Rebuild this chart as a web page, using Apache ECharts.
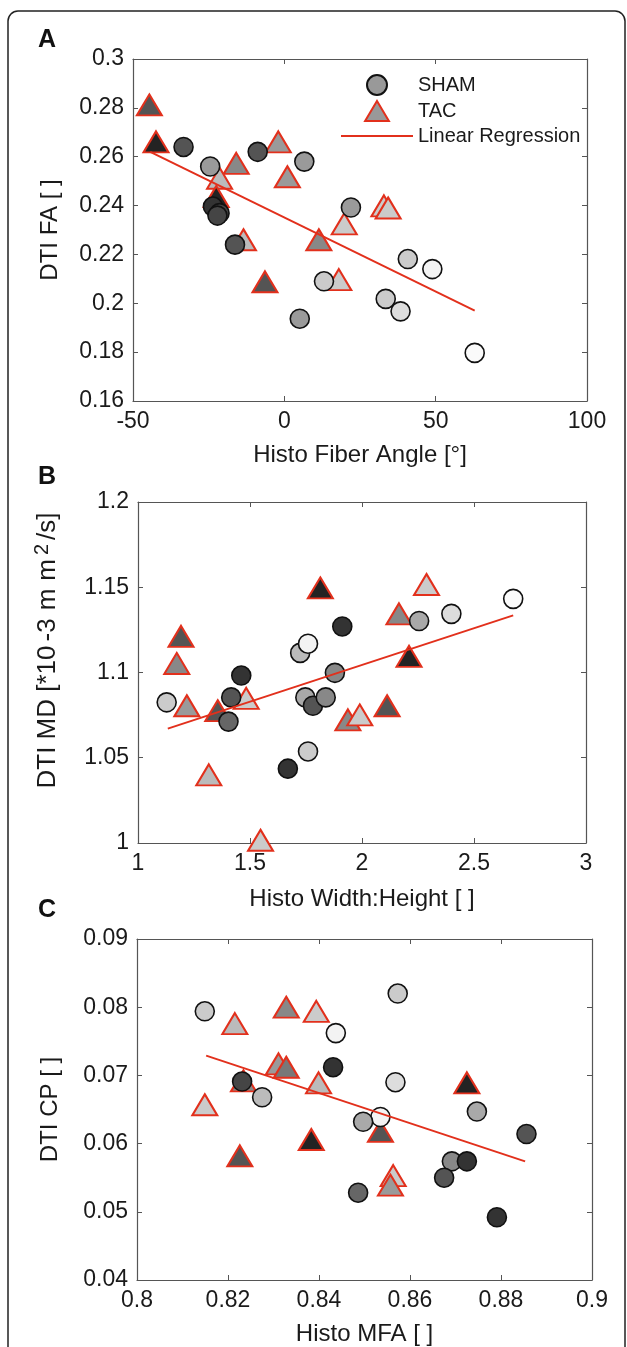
<!DOCTYPE html>
<html>
<head>
<meta charset="utf-8">
<script src="https://cdn.jsdelivr.net/npm/echarts@6/dist/echarts.min.js"></script>
<style>
  html, body { margin: 0; padding: 0; background: #fff; }
  #chart { width: 627px; height: 1347px; }
</style>
</head>
<body>
<div id="chart"></div>
<script>
// A: fiber angle vs FA  (shade: 0 = black fill, 1 = white fill)
const faShamX = [-33.3, -24.5, -8.8, 6.6, -23.6, -21.4, -22.1, -16.3, 22.0, 13.1, 5.1, 40.8, 48.9, 33.5, 38.4, 62.9]
const faShamY = [0.264, 0.256, 0.262, 0.258, 0.2396, 0.2369, 0.2359, 0.224, 0.2392, 0.209, 0.1937, 0.2181, 0.214, 0.2018, 0.1967, 0.1797]
const faShamShade = [0.26, 0.57, 0.26, 0.57, 0.11, 0.19, 0.19, 0.26, 0.57, 0.79, 0.57, 0.79, 0.97, 0.79, 0.87, 1]
const faTacX = [-44.6, -42.4, -2.0, -15.9, -21.4, 1.0, -22.5, 32.9, 34.3, 19.8, 11.4, -13.5, -6.4, 18.0]
const faTacY = [0.2812, 0.2661, 0.2661, 0.2573, 0.2512, 0.2518, 0.2437, 0.2399, 0.239, 0.2325, 0.226, 0.226, 0.2088, 0.2097]
const faTacShade = [0.26, 0.04, 0.57, 0.49, 0.72, 0.57, 0.04, 0.79, 0.79, 0.79, 0.49, 0.72, 0.26, 0.79]
const faFitX = [-44.3, 62.9]
const faFitY = [0.262, 0.197]

// B: width:height vs MD
const mdShamX = [1.128, 1.416, 1.461, 1.404, 1.724, 1.759, 1.912, 1.879, 1.747, 1.781, 1.838, 1.759, 1.669, 2.255, 2.399, 2.675]
const mdShamY = [1.0825, 1.0854, 1.0982, 1.0712, 1.1115, 1.1169, 1.127, 1.0998, 1.0854, 1.0805, 1.0854, 1.0537, 1.0436, 1.1302, 1.1344, 1.1432]
const mdShamShade = [0.79, 0.26, 0.11, 0.34, 0.72, 0.97, 0.11, 0.49, 0.64, 0.26, 0.49, 0.79, 0.11, 0.64, 0.87, 1]
const mdTacX = [1.192, 1.173, 1.218, 1.356, 1.483, 1.316, 1.547, 1.814, 2.288, 2.165, 2.21, 2.112, 1.937, 1.99]
const mdTacY = [1.1212, 1.1053, 1.0805, 1.0776, 1.0848, 1.04, 1.0016, 1.1496, 1.1516, 1.1344, 1.1095, 1.0805, 1.0722, 1.0751]
const mdTacShade = [0.26, 0.49, 0.57, 0.26, 0.79, 0.72, 0.79, 0.04, 0.79, 0.49, 0.04, 0.26, 0.49, 0.79]
const mdFitX = [1.133, 2.675]
const mdFitY = [1.0671, 1.1335]

// C: MFA vs CP
const cpShamX = [0.8149, 0.8573, 0.8437, 0.8431, 0.8568, 0.8231, 0.8275, 0.8535, 0.8497, 0.8747, 0.8856, 0.8692, 0.8725, 0.8675, 0.8486, 0.8791]
const cpShamY = [0.0794, 0.082, 0.0762, 0.0712, 0.069, 0.0691, 0.0668, 0.0639, 0.0632, 0.0647, 0.0614, 0.0574, 0.0574, 0.055, 0.0528, 0.0492]
const cpShamShade = [0.79, 0.79, 0.97, 0.11, 0.87, 0.19, 0.72, 0.97, 0.64, 0.64, 0.26, 0.49, 0.11, 0.26, 0.34, 0.11]
const cpTacX = [0.8328, 0.8394, 0.8215, 0.8311, 0.8328, 0.8234, 0.8399, 0.8149, 0.8725, 0.8535, 0.8383, 0.8226, 0.8563, 0.8557]
const cpTacY = [0.080, 0.0794, 0.0776, 0.0717, 0.0712, 0.0692, 0.0689, 0.0657, 0.0689, 0.0618, 0.0606, 0.0582, 0.0553, 0.0539]
const cpTacShade = [0.49, 0.79, 0.72, 0.57, 0.42, 0.49, 0.72, 0.79, 0.04, 0.26, 0.04, 0.26, 0.79, 0.57]
const cpFitX = [0.8152, 0.8853]
const cpFitY = [0.0729, 0.0574]

const FONT = "'Liberation Sans', Arial, sans-serif"
const RED = '#e2301c'
const AXIS = '#555'

function zip(xs, ys, ss) {
  return xs.map((x, i) => ss ? [x, ys[i], ss[i]] : [x, ys[i]])
}

function axis(grid, pos, min, max, step, name, gap, mirror) {
  return {
    type: 'value', gridIndex: grid, position: pos,
    min: min, max: max, interval: step,
    name: mirror ? '' : name, nameLocation: 'middle', nameGap: gap,
    nameTextStyle: { fontSize: 24, color: '#1a1a1a', fontFamily: FONT },
    axisLine: { show: true, onZero: false, lineStyle: { color: AXIS, width: 1.2 } },
    axisTick: { show: true, inside: true, length: 5, lineStyle: { color: AXIS } },
    axisLabel: { show: !mirror, fontSize: 23, color: '#1a1a1a', fontFamily: FONT, margin: 9 },
    splitLine: { show: false }
  }
}

const grids = [
  { left: 133, top: 59, width: 454, height: 342 },
  { left: 138, top: 502, width: 448, height: 341 },
  { left: 137, top: 939, width: 455, height: 343 }
]

const xAxes = [
  axis(0, 'bottom', -50, 100, 50, 'Histo Fiber Angle [°]', 42),
  axis(0, 'top', -50, 100, 50, '', 0, true),
  axis(1, 'bottom', 1, 3, 0.5, 'Histo Width:Height [ ]', 44),
  axis(1, 'top', 1, 3, 0.5, '', 0, true),
  axis(2, 'bottom', 0.8, 0.9, 0.02, 'Histo MFA [ ]', 42),
  axis(2, 'top', 0.8, 0.9, 0.02, '', 0, true)
]

// MD label: superscript 2, spread out like the original TeX label
const yMd = axis(1, 'left', 1, 1.2, 0.05, '{a|DTI MD [*10}{d|-3}{m|m}{m|m}{s|2}{e|/s]}', 74)
const mdText = { fontSize: 26, fontFamily: FONT, color: '#1a1a1a', lineHeight: 32 }
yMd.nameTextStyle.rich = {
  a: mdText,
  d: Object.assign({}, mdText, { padding: [0, 0, 0, 4] }),
  m: Object.assign({}, mdText, { padding: [0, 0, 0, 8] }),
  s: Object.assign({}, mdText, { fontSize: 20, verticalAlign: 'top', padding: [0, 0, 0, 4] }),
  e: Object.assign({}, mdText, { padding: [0, 0, 0, 4] })
}
yMd.nameTextStyle.padding = [0, 0, 0, 44]

const yAxes = [
  axis(0, 'left', 0.16, 0.3, 0.02, 'DTI FA [ ]', 71),
  axis(0, 'right', 0.16, 0.3, 0.02, '', 0, true),
  yMd,
  axis(1, 'right', 1, 1.2, 0.05, '', 0, true),
  axis(2, 'left', 0.04, 0.09, 0.01, 'DTI CP [ ]', 75),
  axis(2, 'right', 0.04, 0.09, 0.01, '', 0, true)
]

function panelSeries(p, shamX, shamY, shamS, tacX, tacY, tacS, fitX, fitY) {
  return [{
    name: 'TAC', type: 'scatter', xAxisIndex: p * 2, yAxisIndex: p * 2,
    symbol: 'triangle', symbolSize: [25, 21], z: 2,
    itemStyle: { color: '#999', borderColor: RED, borderWidth: 2, opacity: 1 },
    emphasis: { disabled: true },
    data: zip(tacX, tacY, tacS)
  }, {
    name: 'SHAM', type: 'scatter', xAxisIndex: p * 2, yAxisIndex: p * 2,
    symbol: 'circle', symbolSize: 19, z: 3,
    itemStyle: { color: '#999', borderColor: '#111', borderWidth: 1.6, opacity: 1 },
    emphasis: { disabled: true },
    data: zip(shamX, shamY, shamS)
  }, {
    name: 'Linear Regression', type: 'line', xAxisIndex: p * 2, yAxisIndex: p * 2,
    symbol: 'none', z: 4,
    lineStyle: { color: RED, width: 2 }, itemStyle: { color: RED },
    data: zip(fitX, fitY)
  }]
}

const series = [].concat(
  panelSeries(0, faShamX, faShamY, faShamShade, faTacX, faTacY, faTacShade, faFitX, faFitY),
  panelSeries(1, mdShamX, mdShamY, mdShamShade, mdTacX, mdTacY, mdTacShade, mdFitX, mdFitY),
  panelSeries(2, cpShamX, cpShamY, cpShamShade, cpTacX, cpTacY, cpTacShade, cpFitX, cpFitY)
)

const chart = echarts.init(document.getElementById('chart'), null, { renderer: 'canvas' })
chart.setOption({
  animation: false,
  backgroundColor: '#fff',
  textStyle: { fontFamily: FONT },
  grid: grids,
  xAxis: xAxes,
  yAxis: yAxes,
  visualMap: {
    type: 'continuous', show: false, dimension: 2, min: 0, max: 1,
    seriesIndex: [0, 1, 3, 4, 6, 7],
    inRange: { color: ['#1a1a1a', '#fafafa'] }
  },
  legend: {
    data: [
      { name: 'SHAM', icon: 'circle' },
      { name: 'TAC', icon: 'path://M12.5,0L25,21L0,21Z' },
      { name: 'Linear Regression', icon: 'path://M0,0L72,0L72,2L0,2Z' }
    ],
    orient: 'vertical', left: 336, top: 69,
    itemWidth: 72, itemHeight: 20, itemGap: 4,
    symbolKeepAspect: true,
    selectedMode: false,
    textStyle: { fontSize: 20, color: '#1a1a1a', fontFamily: FONT }
  },
  graphic: [
    { type: 'rect', shape: { x: 8, y: 11, width: 617, height: 1400, r: 10 },
      style: { fill: 'none', stroke: '#222', lineWidth: 1.5 }, silent: true },
    { type: 'text', left: 38, top: 28, style: { text: 'A', font: 'bold 25px ' + FONT, fill: '#111' } },
    { type: 'text', left: 38, top: 465, style: { text: 'B', font: 'bold 25px ' + FONT, fill: '#111' } },
    { type: 'text', left: 38, top: 898, style: { text: 'C', font: 'bold 25px ' + FONT, fill: '#111' } }
  ],
  series: series
})
</script>
</body>
</html>
